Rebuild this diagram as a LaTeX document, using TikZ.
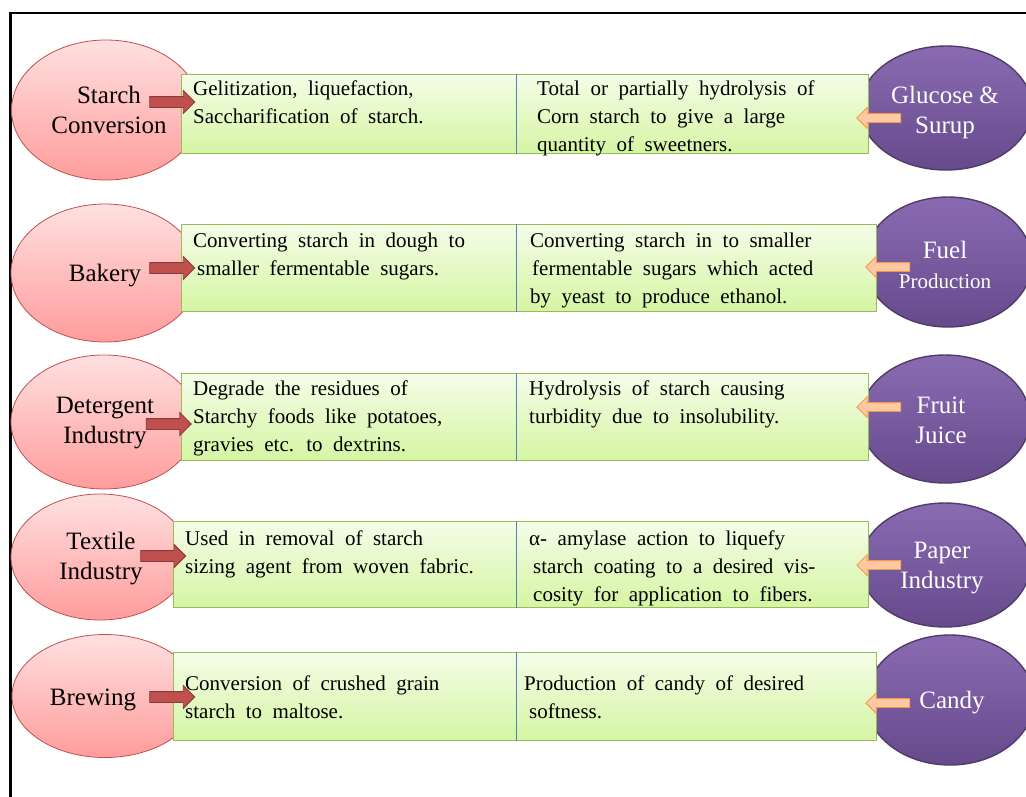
\documentclass[tikz,border=0pt]{standalone}
\usepackage{fontspec}
\setmainfont{Liberation Serif}
\newfontfamily\bodyfont[WordSpace=2]{Liberation Serif}
\usetikzlibrary{shapes.geometric,shapes.arrows}
\definecolor{redtop}{HTML}{FFE0E0}
\definecolor{redbot}{HTML}{FF9C9C}
\definecolor{redline}{HTML}{C0504D}
\definecolor{greentop}{HTML}{F4FDE8}
\definecolor{greenbot}{HTML}{D5F5A3}
\definecolor{greenline}{HTML}{9BBB59}
\definecolor{purtop}{HTML}{8A6BB2}
\definecolor{purbot}{HTML}{664A8C}
\definecolor{purline}{HTML}{4E3D66}
\definecolor{divblue}{HTML}{4F81BD}
\definecolor{rarrowfill}{HTML}{C0504D}
\definecolor{rarrowline}{HTML}{8C3A38}
\definecolor{ofill}{HTML}{FCC9A4}
\definecolor{oline}{HTML}{F79646}
\newcommand\lefttab[1]{\begin{tabular}[t]{@{}l@{}}#1\end{tabular}}
\newcommand\centtab[1]{\begin{tabular}[t]{@{}c@{}}#1\end{tabular}}
\begin{document}
\begin{tikzpicture}[x=1pt,y=-1pt,
  redell/.style={ellipse, draw=redline, line width=0.8pt, top color=redtop, bottom color=redbot, inner sep=0pt},
  purell/.style={ellipse, draw=purline, line width=1.4pt, top color=purtop, bottom color=purbot, inner sep=0pt},
  gbox/.style={rectangle, draw=greenline, line width=1pt, top color=greentop, bottom color=greenbot, anchor=north west, inner sep=0pt},
  divider/.style={draw=divblue, line width=0.8pt},
  body/.style={anchor=base west, inner sep=0pt, font=\bodyfont\fontsize{21}{28}\selectfont},
  elab/.style={anchor=base, inner sep=0pt, font=\fontsize{25}{30.5}\selectfont},
  plab/.style={elab, text=white},
  rarrow/.style={single arrow, draw=rarrowline, fill=rarrowfill, line width=0.8pt, minimum height=45pt, inner xsep=0pt, inner ysep=5pt, single arrow head extend=6pt},
  oarrow/.style={single arrow, draw=oline, fill=ofill, line width=0.8pt, minimum height=44pt, inner xsep=0pt, inner ysep=4pt, single arrow head extend=6pt, shape border rotate=180},
]
\useasboundingbox (0,0) rectangle (1026,796);
\clip (0,0) rectangle (1026,796);
\fill[white] (0,0) rectangle (1026,796);
\draw[line width=2.5pt] (10.5,13) rectangle (1040,810);

% left ellipses
\node[redell, minimum width=189pt, minimum height=140pt] (r1) at (106,110) {};
\node[redell, minimum width=188pt, minimum height=138pt] (r2) at (105,273) {};
\node[redell, minimum width=186pt, minimum height=134pt] (r3) at (104,422) {};
\node[redell, minimum width=178pt, minimum height=126pt] (r4) at (100,557) {};
\node[redell, minimum width=186pt, minimum height=123pt] (r5) at (105,696) {};

% right ellipses
\node[purell, minimum width=172pt, minimum height=124pt] (p1) at (946,108) {};
\node[purell, minimum width=168pt, minimum height=130pt] (p2) at (948,262) {};
\node[purell, minimum width=170pt, minimum height=128pt] (p3) at (945,419) {};
\node[purell, minimum width=170pt, minimum height=124pt] (p4) at (945,565) {};
\node[purell, minimum width=168pt, minimum height=130pt] (p5) at (950,700) {};

% boxes
\node[gbox, minimum width=687pt, minimum height=79pt] (b1) at (181,74) {};
\node[gbox, minimum width=695pt, minimum height=87pt] (b2) at (181,224) {};
\node[gbox, minimum width=687pt, minimum height=87pt] (b3) at (181,373) {};
\node[gbox, minimum width=695pt, minimum height=86pt] (b4) at (173,521) {};
\node[gbox, minimum width=703pt, minimum height=88pt] (b5) at (173,652) {};

\foreach \b in {b1,b2,b3,b4,b5}{
  \draw[divider] (516,0 |- \b.north) -- (516,0 |- \b.south);
}

% box texts
\node[body] (t1l) at (193,95) {\lefttab{Gelitization, liquefaction,\\Saccharification of starch.}};
\node[body] (t1r) at (537,95) {\lefttab{Total or partially hydrolysis of\\Corn starch to give a large\\quantity of sweetners.}};
\node[body] (t2l) at (193,247) {\lefttab{Converting starch in dough to\\\hspace*{4pt}smaller fermentable sugars.}};
\node[body] (t2r) at (530,247) {\lefttab{Converting starch in to smaller\\\hspace*{2pt}fermentable sugars which acted\\by yeast to produce ethanol.}};
\node[body] (t3l) at (193,395) {\lefttab{Degrade the residues of\\Starchy foods like potatoes,\\gravies etc. to dextrins.}};
\node[body] (t3r) at (529,395) {\lefttab{Hydrolysis of starch causing\\turbidity due to insolubility.}};
\node[body] (t4l) at (185,545) {\lefttab{Used in removal of starch\\sizing agent from woven fabric.}};
\node[body] (t4r) at (529,545) {\lefttab{α- amylase action to liquefy\\\hspace*{4pt}starch coating to a desired vis-\\\hspace*{4pt}cosity for application to fibers.}};
\node[body] (t5l) at (185,690) {\lefttab{Conversion of crushed grain\\starch to maltose.}};
\node[body] (t5r) at (524,690) {\lefttab{Production of candy of desired\\\hspace*{5pt}softness.}};

% ellipse labels
\node[elab] (l1) at (109,103) {\centtab{Starch\\Conversion}};
\node[elab] (l2) at (105,281) {\centtab{Bakery}};
\node[elab] (l3) at (105,413) {\centtab{Detergent\\Industry}};
\node[elab] (l4) at (101,549) {\centtab{Textile\\Industry}};
\node[elab] (l5) at (93,705) {\centtab{Brewing}};

\node[plab] (q1) at (945,103) {\centtab{Glucose \&\\Surup}};
\node[plab] (q2) at (945,258) {\centtab{Fuel\\{\fontsize{21}{29}\selectfont Production}}};
\node[plab] (q3) at (941,413) {\centtab{Fruit\\Juice}};
\node[plab] (q4) at (942,558) {\centtab{Paper\\Industry}};
\node[plab] (q5) at (952,708) {\centtab{Candy}};

% arrows
\node[rarrow] (a1) at (169.5,102) {};
\node[rarrow] (a2) at (169.5,268) {};
\node[rarrow] (a3) at (166,424) {};
\node[rarrow] (a4) at (160.5,556) {};
\node[rarrow] (a5) at (169.5,697) {};

\node[oarrow] (o1) at (881,118) {};
\node[oarrow] (o2) at (890,267) {};
\node[oarrow] (o3) at (881,407) {};
\node[oarrow] (o4) at (881,565) {};
\node[oarrow] (o5) at (890,703) {};
\end{tikzpicture}
\end{document}
